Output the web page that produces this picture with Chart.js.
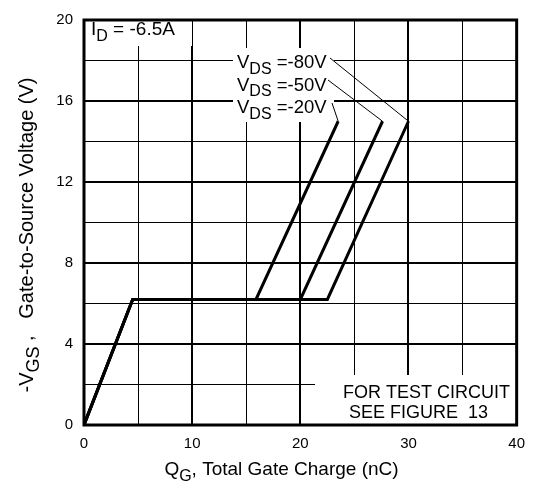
<!DOCTYPE html>
<html>
<head>
<meta charset="utf-8">
<script src="https://cdn.jsdelivr.net/npm/chart.js@4.4.1/dist/chart.umd.min.js"></script>
<style>
  body { margin: 0; background: #fff; }
  #wrap { width: 535px; height: 482px; }
</style>
</head>
<body>
<div id="wrap"><canvas id="myChart" width="535" height="482"></canvas></div>
<script>
// gate charge (nC) and -VGS (V) for each drain voltage
var qg20 = [0, 4.5, 15.9, 23.5];
var vgs20 = [0, 6.2, 6.2, 15];
var qg50 = [0, 4.5, 20, 27.6];
var vgs50 = [0, 6.2, 6.2, 15];
var qg80 = [0, 4.5, 22.5, 30];
var vgs80 = [0, 6.2, 6.2, 15];

var xTickLabels = [0, 10, 20, 30, 40];
var yTickLabels = [0, 4, 8, 12, 16, 20];

var FONT = '"Liberation Sans", Arial, sans-serif';

function toPoints(xs, ys) {
    var pts = [];
    for (var i = 0; i < xs.length; i++) {
        pts.push({x: xs[i], y: ys[i]});
    }
    return pts;
}

function lineSet(label, xs, ys) {
    return {
        label: label,
        data: toPoints(xs, ys),
        showLine: true,
        borderColor: '#000',
        borderWidth: 3,
        pointRadius: 0,
        fill: false,
        tension: 0
    };
}

// text with subscripts: parts = [[text, isSub], ...]
function partsWidth(c, parts, size, sub) {
    var w = 0;
    parts.forEach(function(p) {
        c.font = (p[1] ? sub : size) + 'px ' + FONT;
        w += c.measureText(p[0]).width;
    });
    return w;
}
function drawParts(c, parts, x, y, size, sub) {
    c.textAlign = 'left';
    c.textBaseline = 'alphabetic';
    parts.forEach(function(p) {
        c.font = (p[1] ? sub : size) + 'px ' + FONT;
        c.fillText(p[0], x, p[1] ? y + size * 0.3 : y);
        x += c.measureText(p[0]).width;
    });
    return x;
}

var decor = {
    id: 'decor',
    beforeDatasetsDraw: function(chart) {
        var c = chart.ctx;
        c.save();
        c.fillStyle = '#fff';
        c.fillRect(84, 15, 108, 31);     // ID label
        c.fillRect(233, 48, 101, 74);    // VDS labels
        c.fillRect(315, 375, 203, 50);   // test circuit note
        c.restore();
    },
    afterDatasetsDraw: function(chart) {
        var c = chart.ctx;
        var a = chart.chartArea;
        var xs = chart.scales.x, ys = chart.scales.y;
        c.save();
        c.fillStyle = '#000';
        c.strokeStyle = '#000';

        // frame
        c.lineWidth = 3;
        c.strokeRect(a.left, a.top, a.right - a.left, a.bottom - a.top);

        // ID label
        drawParts(c, [['I', false], ['D', true], [' = -6.5A', false]], 91, 35, 19, 16);

        // VDS labels and leaders
        var labels = ['-80V', '-50V', '-20V'];
        var tops = [[qg80[3], vgs80[3]], [qg50[3], vgs50[3]], [qg20[3], vgs20[3]]];
        var starts = [[330, 58], [328, 80], [332, 103]];
        for (var i = 0; i < 3; i++) {
            var by = 68 + i * 22.5;
            drawParts(c, [['V', false], ['DS', true], [' =', false], [labels[i], false]], 237, by, 18.5, 16);
            c.lineWidth = 1;
            c.beginPath();
            c.moveTo(starts[i][0], starts[i][1]);
            c.lineTo(xs.getPixelForValue(tops[i][0]), ys.getPixelForValue(tops[i][1]));
            c.stroke();
        }

        // test circuit note
        c.font = '18px ' + FONT;
        c.textAlign = 'left';
        c.textBaseline = 'middle';
        c.fillText('FOR TEST CIRCUIT', 343, 393);
        c.fillText('SEE FIGURE  13', 349, 413);

        // x axis title
        var xt = [['Q', false], ['G', true], [', Total Gate Charge (nC)', false]];
        var w = partsWidth(c, xt, 19, 16);
        drawParts(c, xt, 281.5 - w / 2, 475, 19, 16);

        // y axis title
        var yt = [['-V', false], ['GS', true], [' ,   Gate-to-Source Voltage (V)', false]];
        c.translate(33, 235);
        c.rotate(-Math.PI / 2);
        w = partsWidth(c, yt, 20, 18);
        drawParts(c, yt, -w / 2, 0, 20, 18);
        c.restore();
    }
};

var ctx = document.getElementById('myChart').getContext('2d');
var chart = new Chart(ctx, {
    type: 'scatter',
    data: {
        datasets: [
            lineSet('VDS=-20V', qg20, vgs20),
            lineSet('VDS=-50V', qg50, vgs50),
            lineSet('VDS=-80V', qg80, vgs80)
        ]
    },
    options: {
        responsive: false,
        animation: false,
        devicePixelRatio: 1,
        layout: { padding: { top: 15, right: 17, left: 0, bottom: 0 } },
        plugins: { legend: { display: false }, tooltip: { enabled: false } },
        scales: {
            x: {
                type: 'linear', min: 0, max: 40,
                ticks: {
                    stepSize: 5, padding: 10, color: '#000', maxRotation: 0,
                    font: { family: FONT, size: 15 },
                    callback: function(v) { return xTickLabels.indexOf(v) >= 0 ? v : ''; }
                },
                grid: {
                    color: '#000', drawTicks: false,
                    lineWidth: function(c) { return c.tick && c.tick.value % 10 === 0 ? 2 : 1; }
                },
                border: { display: false },
                afterFit: function(s) { s.height = 57; }
            },
            y: {
                type: 'linear', min: 0, max: 20,
                ticks: {
                    stepSize: 2, padding: 11, color: '#000',
                    font: { family: FONT, size: 15 },
                    callback: function(v) { return yTickLabels.indexOf(v) >= 0 ? v : ''; }
                },
                grid: {
                    color: '#000', drawTicks: false,
                    lineWidth: function(c) { return c.tick && c.tick.value % 4 === 0 ? 2 : 1; }
                },
                border: { display: false },
                afterFit: function(s) { s.width = 84; }
            }
        }
    },
    plugins: [decor]
});
</script>
</body>
</html>
